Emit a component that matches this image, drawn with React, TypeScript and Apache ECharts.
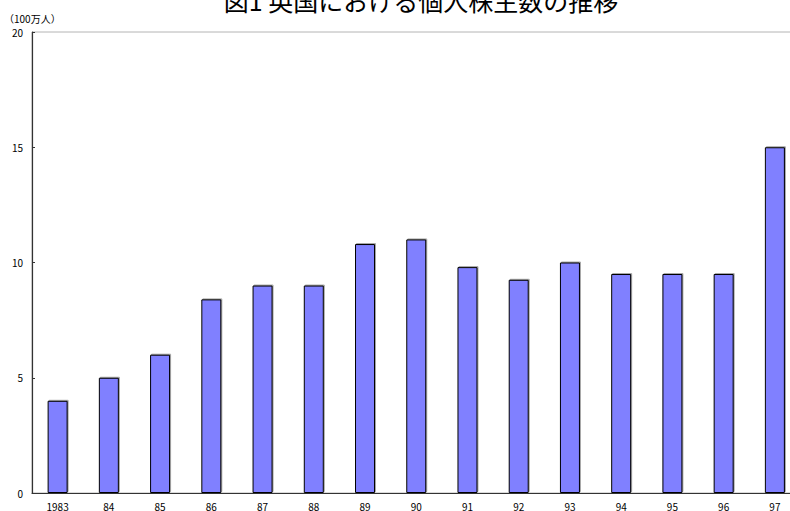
import React, { useEffect, useRef } from "react";
import * as echarts from "echarts";

// 英国の個人株主数（単位：100万人）
const years = ["1983", "84", "85", "86", "87", "88", "89", "90", "91", "92", "93", "94", "95", "96", "97"];
const shareholders = [4, 5, 6, 8.4, 9, 9, 10.8, 11, 9.8, 9.25, 10, 9.5, 9.5, 9.5, 15];
const yTicks = [0, 5, 10, 15, 20];

const titleText = "図1 英国における個人株主数の推移";
const unitText = "（100万人）";

const FONT = '"Noto Sans CJK JP", "Noto Sans", sans-serif';

export default function App() {
  const ref = useRef<HTMLDivElement>(null);

  useEffect(() => {
    document.body.style.margin = "0";
    document.documentElement.style.overflow = "hidden";
    document.body.style.overflow = "hidden";
    if (!ref.current) return;
    const chart = echarts.init(ref.current, null, { renderer: "svg" });
    chart.setOption({
      animation: false,
      backgroundColor: "#ffffff",
      textStyle: { fontFamily: FONT },
      graphic: [
        {
          type: "text",
          x: 421,
          y: 12,
          style: {
            text: titleText,
            font: `25px ${FONT}`,
            fill: "#000",
            textAlign: "center",
            textVerticalAlign: "bottom",
          },
        },
        {
          type: "text",
          x: 4,
          y: 18,
          style: {
            text: unitText,
            font: `10px ${FONT}`,
            fill: "#000",
            textAlign: "left",
            textVerticalAlign: "middle",
          },
        },
      ],
      grid: {
        left: 32,
        top: 32,
        width: 768.5,
        height: 461,
        outerBoundsMode: "none",
        containLabel: false,
        show: true,
        borderColor: "#b4b4b4",
        borderWidth: 1,
      },
      xAxis: {
        type: "category",
        data: years,
        axisLine: { lineStyle: { color: "#333", width: 1.2 } },
        axisTick: { inside: true, length: 3, lineStyle: { color: "#333" } },
        axisLabel: { fontSize: 10, color: "#000", margin: 8, fontFamily: FONT },
      },
      yAxis: {
        type: "value",
        min: yTicks[0],
        max: yTicks[yTicks.length - 1],
        interval: 5,
        splitLine: { show: false },
        axisLine: { show: true, lineStyle: { color: "#333", width: 1.2 } },
        axisTick: { show: true, inside: true, length: 3, lineStyle: { color: "#333" } },
        axisLabel: { fontSize: 10, color: "#000", margin: 9, fontFamily: FONT },
      },
      series: [
        {
          type: "bar",
          data: shareholders,
          barWidth: 20,
          itemStyle: {
            color: "#8080ff",
            borderColor: "#000",
            borderWidth: 1,
            shadowColor: "rgba(0,0,0,0.35)",
            shadowBlur: 0,
            shadowOffsetX: 1,
            shadowOffsetY: -1,
          },
        },
      ],
    });
    return () => chart.dispose();
  }, []);

  return (
    <div style={{ width: 790, height: 511, overflow: "hidden", position: "relative" }}>
      <div ref={ref} style={{ width: 790, height: 511 }} />
    </div>
  );
}
